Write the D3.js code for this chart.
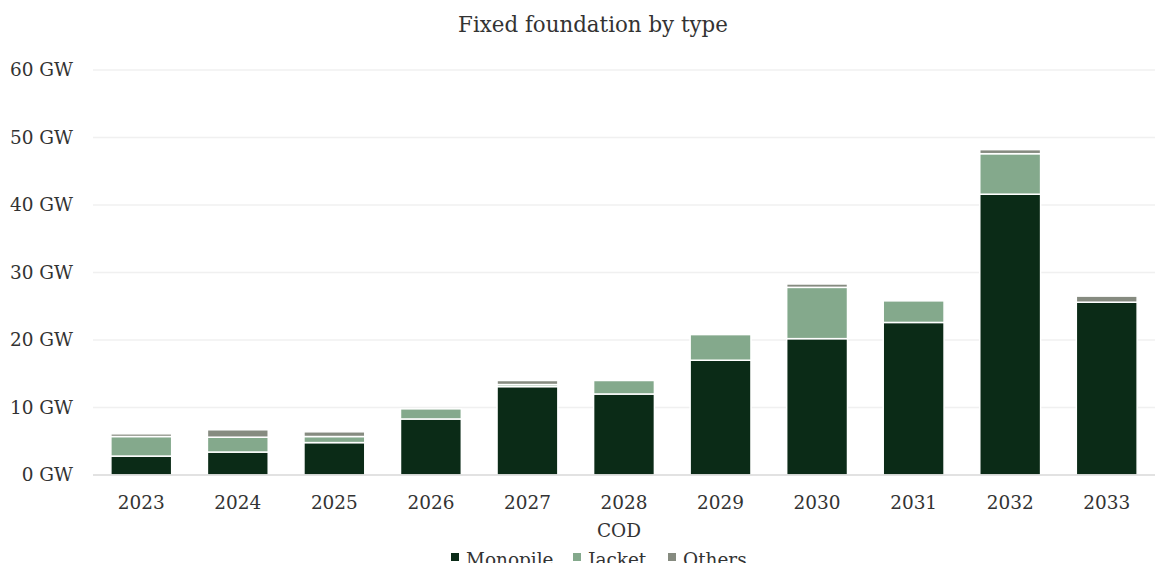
<!DOCTYPE html>
<html><head><meta charset="utf-8">
<script src="https://cdn.jsdelivr.net/npm/d3@7"></script>
<style>body{margin:0;background:#fff}svg text{font-family:"DejaVu Serif",serif;fill:#333}</style>
</head><body><svg id="c" width="1158" height="563"></svg>
<script>
const years = ["2023","2024","2025","2026","2027","2028","2029","2030","2031","2032","2033"];
const monopile = [2.8,3.4,4.8,8.3,13.1,12.0,17.0,20.2,22.6,41.6,25.6];
const jacket   = [2.9,2.2,0.9,1.5,0.3,2.0,3.8,7.6,3.2,6.0,0];
const others   = [0.4,1.1,0.7,0,0.6,0,0,0.5,0,0.6,0.9];
const seriesNames = ["Monopile","Jacket","Others"];
const colors = ["#0b2b17","#84a98c","#868b80"];
const yTicks = [0,10,20,30,40,50,60];

const svg = d3.select("#c");
const m = {l:93, r:3};
const W = 1158;
const x = d3.scaleBand().domain(years).range([m.l, W-m.r]).paddingInner(0.37).paddingOuter(0.185);
const y = d3.scaleLinear().domain([0,60]).range([475,70]);

// measure-based font sizing
const probe = svg.append("text").attr("font-size",100).attr("x",-1000);
function sizeFor(str, target){ probe.text(str); return 100*target/probe.node().getComputedTextLength(); }
const fsTick = sizeFor("2023",47);
const fsTitle = sizeFor("Fixed foundation by type",270);
probe.remove();

// grid
svg.append("g").selectAll("line").data(yTicks.slice(1)).join("line")
  .attr("x1",m.l).attr("x2",W-m.r).attr("y1",d=>y(d)).attr("y2",d=>y(d))
  .attr("stroke","#f0f0f0").attr("stroke-width",1.5);

const rows = years.map((yr,i)=>({year:yr, Monopile:monopile[i], Jacket:jacket[i], Others:others[i]}));
const stack = d3.stack().keys(seriesNames)(rows);
svg.append("g").selectAll("g").data(stack).join("g").attr("fill",(d,i)=>colors[i])
  .selectAll("rect").data(d=>d.filter(s=>s[1]-s[0]>0)).join("rect")
  .attr("x",d=>x(d.data.year)).attr("width",x.bandwidth())
  .attr("y",d=>y(d[1])).attr("height",d=>y(d[0])-y(d[1]))
  .attr("stroke","#fff").attr("stroke-width",1.5);

// baseline
svg.append("line").attr("x1",m.l).attr("x2",W-m.r).attr("y1",y(0)).attr("y2",y(0))
  .attr("stroke","#d9d9d9").attr("stroke-width",1.5);

// y axis labels
const yAxis = d3.axisLeft(y).tickValues(yTicks).tickFormat(d=>d+" GW").tickSize(0).tickPadding(20);
const ya = svg.append("g").attr("transform",`translate(${m.l},0)`).call(yAxis);
ya.select(".domain").remove();
ya.selectAll("text").attr("font-size",fsTick).style("font-family","DejaVu Serif").attr("fill","#333");

// x axis labels
const xAxis = d3.axisBottom(x).tickSize(0).tickPadding(21);
const xa = svg.append("g").attr("transform",`translate(0,${y(0)})`).call(xAxis);
xa.select(".domain").remove();
xa.selectAll("text").attr("font-size",fsTick).style("font-family","DejaVu Serif").attr("fill","#333");

svg.append("text").attr("x",619).attr("y",537).attr("text-anchor","middle").attr("font-size",fsTick).text("COD");
svg.append("text").attr("x",593).attr("y",32).attr("text-anchor","middle").attr("font-size",fsTitle).text("Fixed foundation by type");

// legend
const legX = [451,573,668];
const lg = svg.append("g").selectAll("g").data(seriesNames).join("g")
  .attr("transform",(d,i)=>`translate(${legX[i]},0)`);
lg.append("rect").attr("x",0).attr("y",553).attr("width",8).attr("height",8).attr("fill",(d,i)=>colors[i]);
lg.append("text").attr("x",15).attr("y",566).attr("font-size",fsTick).text(d=>d);
</script></body></html>
